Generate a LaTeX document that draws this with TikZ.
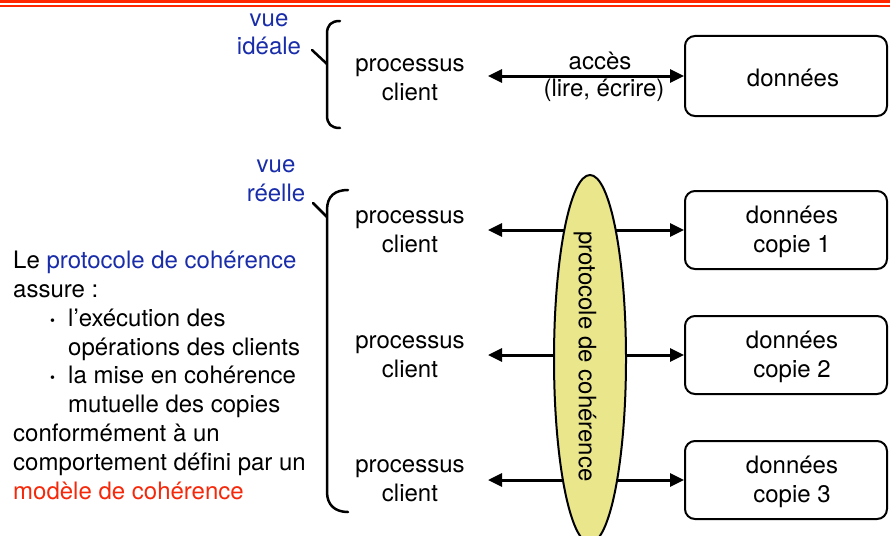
\documentclass[tikz,border=0pt]{standalone}
\usepackage{fontspec}
\setmainfont{TeX Gyre Heros}
\usetikzlibrary{arrows.meta,shapes.geometric}
\definecolor{redline}{RGB}{255,38,0}
\definecolor{bluetxt}{RGB}{25,45,170}
\definecolor{redtxt}{RGB}{245,40,10}
\definecolor{ellfill}{RGB}{234,230,140}
\newcommand\mybul{\raisebox{1pt}{\fontsize{14}{14}\selectfont\textbullet}}
\begin{document}
\begin{tikzpicture}[x=1pt,y=-1pt,
  txt/.style={font=\fontsize{24}{28.8}\selectfont, inner sep=0pt, align=center},
  databox/.style={draw, line width=2pt, rounded corners=10pt, minimum width=202pt, inner sep=0pt},
  conn/.style={line width=3pt, {Triangle[length=14pt,width=13pt]}-{Triangle[length=14pt,width=13pt]}},
  brace/.style={line width=2.5pt, line cap=round, line join=round},
  ]
\useasboundingbox (0,0) rectangle (890,535);
% header lines
\draw[redline, line width=3pt] (0,1.5) -- (890,1.5);
\draw[redline, line width=2pt] (0,6.5) -- (890,6.5);

% ideal view
\node[txt, text=bluetxt, anchor=base] (vi) at (269,55) {vue\\idéale};
\draw[brace] (340,21) .. controls (331,21) and (327,25) .. (327,34) -- (327,115) .. controls (327,124) and (331,128) .. (340,128);
\draw[brace] (312,50) -- (327,64);
\node[txt, anchor=base] (p0) at (410,100) {processus\\client};
\node[databox, minimum height=80pt] (d0) at (786,76) {};
\node[txt, anchor=base] (t0) at (793,86) {données};
\coordinate (a0) at (488,76);
\draw[conn] (a0) -- (d0.west);
\node[txt, anchor=base] (acc1) at (600,70) {accès};
\node[txt, anchor=base] (acc2) at (604,96) {(lire, écrire)};

% real view
\node[txt, text=bluetxt, anchor=base] (vr) at (276,201) {vue\\réelle};
\draw[brace] (348,190) .. controls (335,190) and (327,196) .. (327,210) -- (327,492) .. controls (327,505) and (335,512) .. (348,512);
\draw[brace] (313,203) -- (327,217);

\node[txt, anchor=base] (p1) at (410,252) {processus\\client};
\node[txt, anchor=base] (p2) at (410,377) {processus\\client};
\node[txt, anchor=base] (p3) at (410,501) {processus\\client};

\node[databox, minimum height=78pt] (d1) at (786,230) {};
\node[databox, minimum height=78pt] (d2) at (786,355) {};
\node[databox, minimum height=78pt] (d3) at (786,480) {};
\node[txt, anchor=base] (t1) at (792,252) {données\\copie 1};
\node[txt, anchor=base] (t2) at (792,377) {données\\copie 2};
\node[txt, anchor=base] (t3) at (792,502) {données\\copie 3};

\coordinate (a1) at (488,230);
\coordinate (a2) at (488,355);
\coordinate (a3) at (488,480);
\draw[conn] (a1) -- (d1.west);
\draw[conn] (a2) -- (d2.west);
\draw[conn] (a3) -- (d3.west);

\node[ellipse, draw, line width=2pt, fill=ellfill, minimum width=72pt, minimum height=368pt, inner sep=0pt] (pc) at (590,359) {};
\node[txt, rotate=-90] (pct) at (585,356.5) {protocole de cohérence};

% explanation
\node[txt, align=left, anchor=base west] (expl) at (13,499) {Le \textcolor{bluetxt}{protocole de cohérence}\\
assure :\\
\hspace*{37pt}\makebox[18pt][l]{\mybul}l’exécution des\\
\hspace*{55pt}opérations des clients\\
\hspace*{37pt}\makebox[18pt][l]{\mybul}la mise en cohérence\\
\hspace*{55pt}mutuelle des copies\\
conformément à un\\
comportement défini par un\\
\textcolor{redtxt}{modèle de cohérence}};
\end{tikzpicture}
\end{document}
